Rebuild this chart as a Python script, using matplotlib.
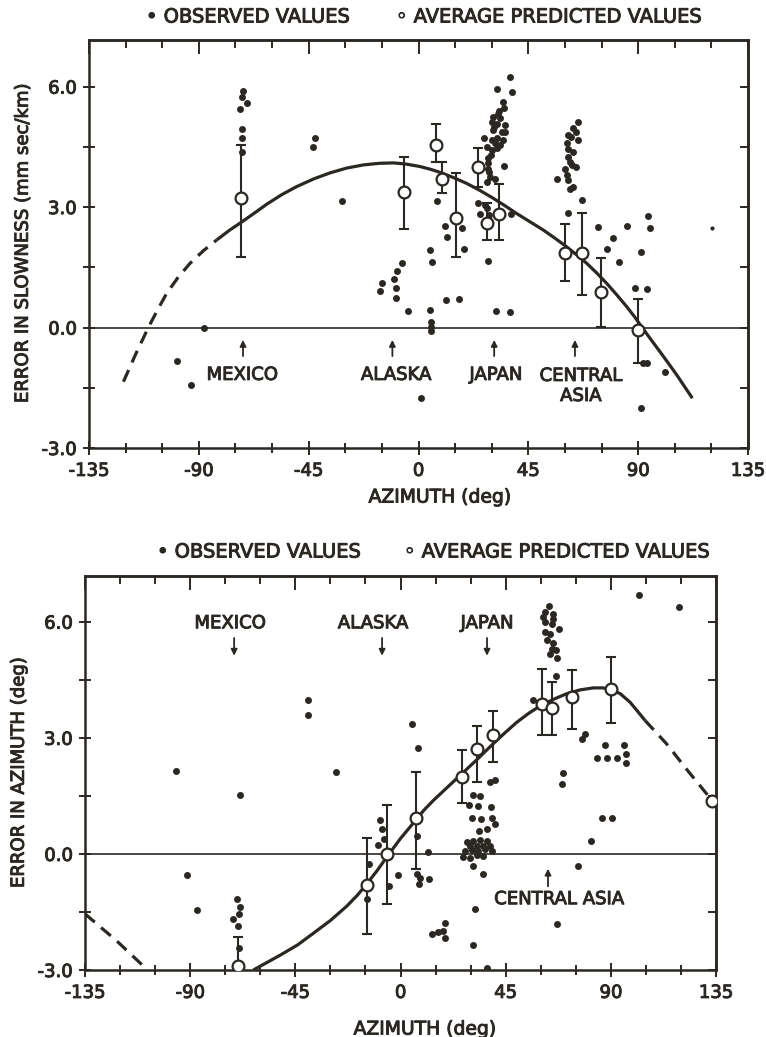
import matplotlib
matplotlib.use("Agg")
import matplotlib.pyplot as plt
import matplotlib.patheffects as pe
from matplotlib.text import Text
from matplotlib.ticker import MultipleLocator, FormatStrFormatter, NullFormatter

plt.rcParams['font.family'] = 'DejaVu Sans'
plt.rcParams['axes.unicode_minus'] = False

INK = '#2b2723'

# -------------------------
# Upper panel: error in slowness
# -------------------------
top_obs_x = [-72.0, -72.5, -70.2, -73.3, -72.3, -72.3, -72.3, -42.4, -43.1, -31.2, -87.9, -99.1, -93.2,
             -6.9, -8.7, -10.0, -14.8, -15.8, -9.3, -9.3, -4.2, 1.0, 4.7, 5.0, 5.0, 5.0, 4.7, 5.7,
             7.5, 10.9, 11.8, 17.7, 18.8, 11.3, 16.7, 28.6, 31.7, 37.5, 37.8, 35.2,
             37.5, 32.0, 38.2, 34.7, 35.2, 32.7, 30.6, 30.0, 32.0, 33.4, 35.5, 30.6, 34.1, 35.5,
             30.0, 32.0, 34.7, 27.0, 31.4, 32.0, 30.0, 27.9, 28.6, 28.6, 28.6, 29.0, 29.4, 31.4,
             27.9, 33.0, 31.0, 33.5, 29.5, 24.5, 27.2, 27.9, 25.2, 29.0,
             65.5, 63.4, 64.5, 61.4, 65.5, 60.7, 62.5, 61.4, 63.4, 61.4, 62.1, 60.0, 62.7, 64.7,
             60.7, 61.4, 56.7, 62.1, 63.4, 67.1, 61.4, 73.4, 85.3, 94.1, 94.8, 79.8, 77.1, 82.1,
             91.0, 88.7, 93.7, 92.1, 93.5, 101.0, 91.0]
top_obs_y = [5.90, 5.75, 5.60, 5.45, 4.94, 4.71, 4.38, 4.71, 4.50, 3.16, 0.00, -0.83, -1.43,
             1.61, 1.41, 1.20, 1.10, 0.91, 0.98, 0.73, 0.41, -1.75, 0.44, 0.14, 0.02, -0.08, 1.93, 1.62,
             3.15, 2.53, 2.26, 2.47, 1.95, 0.68, 0.70, 1.66, 0.42, 0.38, 2.82, 4.02,
             6.23, 5.94, 5.87, 5.61, 5.46, 5.33, 5.25, 5.12, 5.08, 5.21, 5.04, 4.92, 4.87, 4.87,
             4.67, 4.71, 4.67, 4.73, 4.59, 4.46, 4.42, 4.49, 4.21, 4.09, 3.96, 3.88, 3.75, 3.71,
             3.63, 5.40, 5.00, 4.55, 4.30, 3.11, 3.05, 2.97, 2.83, 2.80,
             5.11, 4.96, 4.87, 4.79, 4.67, 4.60, 4.75, 4.44, 4.38, 4.25, 4.13, 3.96, 4.05, 4.00,
             3.80, 3.67, 3.71, 3.46, 3.50, 3.17, 2.84, 2.51, 2.53, 2.78, 2.48, 2.22, 1.95, 1.62,
             1.87, 0.99, 0.96, -0.89, -0.89, -1.10, -2.01]
top_faint_x = [120.1]
top_faint_y = [2.47]

top_avg_x = [-72.7, -6.1, 7.2, 9.8, 15.2, 24.5, 27.9, 33.1, 60.0, 66.9, 74.8, 90.1]
top_avg_y = [3.22, 3.38, 4.54, 3.71, 2.72, 3.99, 2.61, 2.83, 1.85, 1.85, 0.88, -0.06]
top_avg_hi = [4.54, 4.25, 5.08, 4.13, 3.85, 4.46, 3.10, 3.57, 2.58, 2.86, 1.72, 0.71]
top_avg_lo = [1.75, 2.46, 4.13, 3.34, 1.75, 3.50, 2.18, 2.18, 1.16, 0.81, 0.02, -0.89]

top_dash_x = [-120.9, -116.0, -110.7, -107.0, -103.2, -98.5, -93.6, -88.0, -82.7]
top_dash_y = [-1.35, -0.68, 0.00, 0.43, 0.85, 1.25, 1.60, 1.92, 2.18]
top_curve_x = [-82.7, -77.5, -72.4, -67.0, -62.2, -56.0, -49.9, -43.0, -36.3, -29.5, -22.6, -16.0,
               -10.3, -5.0, 0.6, 5.0, 9.5, 14.5, 19.7, 25.0, 30.6, 35.5, 40.2, 45.5, 51.1, 56.0,
               60.7, 65.0, 68.9, 73.0, 77.1, 81.0, 85.3, 88.5, 91.4, 95.0, 98.9, 102.5, 105.8,
               109.0, 112.2]
top_curve_y = [2.18, 2.42, 2.63, 2.86, 3.07, 3.31, 3.51, 3.70, 3.85, 3.97, 4.05, 4.09,
               4.10, 4.07, 4.01, 3.94, 3.85, 3.73, 3.59, 3.42, 3.22, 3.03, 2.84, 2.64, 2.43, 2.22,
               2.01, 1.80, 1.60, 1.36, 1.10, 0.83, 0.52, 0.27, 0.02, -0.28, -0.60, -0.90, -1.18,
               -1.47, -1.76]

top_regions = ['MEXICO', 'ALASKA', 'JAPAN', 'CENTRAL\nASIA']
top_region_arrow_x = [-71.9, -10.7, 31.0, 64.1]
top_region_text_x = [-72.3, -9.2, 31.7, 66.5]

# -------------------------
# Lower panel: error in azimuth
# -------------------------
bot_obs_x = [-96.1, -68.7, -39.4, -39.4, -27.7, -91.2, -87.2,
             -70.1, -68.7, -69.0, -71.5, -69.4, -69.0, 4.8, 7.3,
             -8.8, -7.8, -7.1, -9.5, -13.5, -14.2, -0.9, -4.9,
             7.1, 8.5, 12.0, 7.8, 6.9, 11.9,
             38.3, 40.4, 30.9, 34.0, 29.4, 33.3, 38.6, 30.5, 34.3, 39.0, 40.4, 33.7, 36.9,
             28.3, 31.2, 34.0, 36.9, 29.7, 32.6, 35.4, 38.3, 27.6, 30.5, 33.3, 36.2, 39.0,
             26.9, 29.7, 32.6, 35.4, 31.2, 35.4, 31.9, 19.0, 18.1, 16.2, 13.3, 19.0, 30.9, 37.1,
             102.1, 119.2, 63.7, 61.8, 65.1, 61.1, 65.4, 61.6, 64.8, 67.6, 61.8, 63.9, 62.5,
             65.4, 64.8, 66.6, 63.9, 66.8, 66.5, 56.6, 77.5, 79.0, 87.5, 95.8, 83.9, 88.5,
             92.5, 96.5, 96.5, 69.4, 69.0, 86.4, 90.4, 81.4, 75.8, 66.8]
bot_obs_y = [2.13, 1.52, 3.98, 3.60, 2.12, -0.55, -1.45,
             -1.16, -1.37, -1.56, -1.68, -1.85, -2.43, 3.36, 2.74,
             0.88, 0.64, 0.38, 0.23, -0.25, -1.16, -0.54, -0.83,
             -0.53, -0.63, -0.66, -0.77, 0.47, 0.06,
             1.85, 1.92, 1.52, 1.50, 1.26, 1.24, 1.20, 0.94, 0.90, 0.92, 0.77, 0.58, 0.64,
             0.32, 0.34, 0.35, 0.34, 0.21, 0.21, 0.21, 0.21, 0.08, 0.10, 0.08, 0.12, 0.08,
             -0.08, -0.10, -0.03, -0.05, -0.31, -0.51, -1.43, -1.78, -1.98, -2.01, -2.06, -2.17, -2.36, -2.95,
             6.68, 6.38, 6.40, 6.25, 6.21, 6.12, 6.08, 5.99, 5.95, 5.80, 5.73, 5.67, 5.52,
             5.45, 5.30, 5.26, 5.17, 5.07, 4.61, 3.98, 2.97, 3.10, 2.82, 2.82, 2.48, 2.48,
             2.48, 2.58, 2.34, 2.09, 1.81, 0.94, 0.92, 0.34, -0.31, -1.80]

bot_avg_x = [-69.4, -14.5, -5.9, 6.5, 26.4, 32.9, 39.7, 60.4, 65.0, 73.5, 89.9, 133.2]
bot_avg_y = [-2.90, -0.80, 0.01, 0.92, 2.00, 2.71, 3.08, 3.88, 3.76, 4.05, 4.27, 1.37]
bot_avg_hi = [-2.15, 0.41, 1.26, 2.12, 2.69, 3.30, 3.70, 4.78, 4.44, 4.76, 5.09, 1.37]
bot_avg_lo = [-3.60, -2.06, -1.30, -0.40, 1.31, 1.87, 2.38, 3.06, 3.06, 3.23, 3.39, 1.37]

bot_dash1_x = [-135.0, -121.4, -108.6]
bot_dash1_y = [-1.55, -2.25, -2.98]
bot_curve_x = [-63.0, -57.0, -51.6, -44.0, -37.3, -30.0, -23.0, -18.5, -14.5, -10.0, -5.9, 0.0,
               5.5, 10.0, 14.0, 20.0, 26.4, 32.9, 39.7, 44.5, 49.7, 55.0, 60.4, 66.0, 71.1,
               77.0, 82.5, 86.5, 89.9, 94.0, 98.2, 101.5, 104.6]
bot_curve_y = [-3.00, -2.80, -2.62, -2.35, -2.05, -1.72, -1.35, -1.07, -0.78, -0.43, -0.08, 0.40,
               0.80, 1.13, 1.38, 1.72, 2.08, 2.45, 2.85, 3.12, 3.40, 3.64, 3.85, 4.01, 4.14,
               4.24, 4.29, 4.29, 4.25, 4.14, 3.92, 3.68, 3.45]
bot_dash2_x = [104.6, 113.9, 122.5, 131.0, 135.0]
bot_dash2_y = [3.45, 2.84, 2.18, 1.55, 1.26]

bot_regions = ['MEXICO', 'ALASKA', 'JAPAN']
bot_region_arrow_x = [-71.2, -7.9, 37.0]
bot_region_text_x = [-73.0, -11.8, 37.0]


def style_axes(ax, ytop):
    ax.set_xlim(-135, 135)
    ax.set_ylim(-3, ytop)
    ax.xaxis.set_major_locator(MultipleLocator(45))
    ax.xaxis.set_minor_locator(MultipleLocator(15))
    ax.yaxis.set_major_locator(MultipleLocator(3))
    ax.yaxis.set_minor_locator(MultipleLocator(1.5))
    ax.yaxis.set_major_formatter(FormatStrFormatter('%.1f'))
    ax.xaxis.set_major_formatter(FormatStrFormatter('%d'))
    ax.tick_params(which='both', direction='inout', color=INK, width=1.4,
                   labelsize=13, labelcolor=INK)
    ax.tick_params(axis='x', which='major', length=10, pad=5)
    ax.tick_params(axis='x', which='minor', length=7)
    ax.tick_params(axis='y', which='both', length=8, pad=5)
    for s in ax.spines.values():
        s.set_linewidth(1.8)
        s.set_color(INK)
    # top and right ticks point inward
    sx = ax.secondary_xaxis('top')
    sx.xaxis.set_major_locator(MultipleLocator(45))
    sx.xaxis.set_minor_locator(MultipleLocator(15))
    sx.xaxis.set_major_formatter(NullFormatter())
    sx.tick_params(which='major', direction='in', length=10, width=1.4, color=INK)
    sx.tick_params(which='minor', direction='in', length=6, width=1.4, color=INK)
    sx.spines['top'].set_linewidth(1.8)
    sx.spines['top'].set_color(INK)
    sy = ax.secondary_yaxis('right')
    sy.yaxis.set_major_locator(MultipleLocator(3))
    sy.yaxis.set_minor_locator(MultipleLocator(1.5))
    sy.yaxis.set_major_formatter(NullFormatter())
    sy.tick_params(which='both', direction='in', length=6, width=1.4, color=INK)
    sy.spines['right'].set_linewidth(1.8)
    sy.spines['right'].set_color(INK)
    ax.axhline(0, color=INK, lw=1.2, zorder=1)


def draw_avg(ax, x, y, lo, hi):
    yerr = [[yy - l for yy, l in zip(y, lo)], [h - yy for yy, h in zip(y, hi)]]
    ax.errorbar(x, y, yerr=yerr, fmt='none', ecolor=INK, elinewidth=1.5,
                capsize=3.5, capthick=1.5, zorder=3)
    ax.plot(x, y, 'o', ms=8.5, mfc='white', mec=INK, mew=1.6, zorder=4)


def region_arrow(ax, x, y_tail, y_head):
    ax.annotate('', xy=(x, y_head), xytext=(x, y_tail),
                arrowprops=dict(arrowstyle='-|>', color=INK, lw=1.3, mutation_scale=9))


fig = plt.figure(figsize=(7.66, 10.37), dpi=100)
fig.patch.set_facecolor('white')

# -------------------------
# Upper panel
# -------------------------
ax1 = fig.add_axes([0.1162, 0.5680, 0.8603, 0.3934])
style_axes(ax1, 7.16)
ax1.plot(top_obs_x, top_obs_y, 'o', ms=5, color=INK, mec='none', zorder=2)
ax1.plot(top_faint_x, top_faint_y, 'o', ms=3, color=INK, mec='none', zorder=2)
ax1.plot(top_dash_x, top_dash_y, color=INK, lw=2.3, dashes=(4, 2.6), zorder=3)
ax1.plot(top_curve_x, top_curve_y, color=INK, lw=2.3, zorder=3, solid_capstyle='butt')
draw_avg(ax1, top_avg_x, top_avg_y, top_avg_lo, top_avg_hi)
for name, xa, xt in zip(top_regions, top_region_arrow_x, top_region_text_x):
    region_arrow(ax1, xa, -0.78, -0.24)
    yt = -1.18 - 0.275 * name.count('\n')
    ax1.text(xt, yt, name, ha='center', va='center', fontsize=13, color=INK, linespacing=1.15)
ax1.set_ylabel('ERROR IN SLOWNESS (mm sec/km)', fontsize=13, color=INK, labelpad=7)

# -------------------------
# Lower panel
# -------------------------
ax2 = fig.add_axes([0.1110, 0.0646, 0.8238, 0.3799])
style_axes(ax2, 7.18)
ax2.plot(bot_obs_x, bot_obs_y, 'o', ms=5, color=INK, mec='none', zorder=2)
ax2.plot(bot_dash1_x, bot_dash1_y, color=INK, lw=2.3, dashes=(4, 2.6), zorder=3)
ax2.plot(bot_dash2_x, bot_dash2_y, color=INK, lw=2.3, dashes=(4, 2.6), zorder=3)
ax2.plot(bot_curve_x, bot_curve_y, color=INK, lw=2.3, zorder=3, solid_capstyle='butt')
draw_avg(ax2, bot_avg_x, bot_avg_y, bot_avg_lo, bot_avg_hi)
for name, xa, xt in zip(bot_regions, bot_region_arrow_x, bot_region_text_x):
    region_arrow(ax2, xa, 5.65, 5.05)
    ax2.text(xt, 5.96, name, ha='center', va='center', fontsize=13, color=INK)
region_arrow(ax2, 63.1, -0.91, -0.31)
ax2.text(67.8, -1.17, 'CENTRAL ASIA', ha='center', va='center', fontsize=13, color=INK)
ax2.set_ylabel('ERROR IN AZIMUTH (deg)', fontsize=13, color=INK, labelpad=7)

# axis titles and keys
fig.text(440 / 766, 1 - 497 / 1037, 'AZIMUTH (deg)', ha='center', va='center', fontsize=13.5, color=INK)
fig.text(425 / 766, 1 - 1029 / 1037, 'AZIMUTH (deg)', ha='center', va='center', fontsize=13.5, color=INK)

for ytxt, x0, x1 in [(17, 146, 396), (552, 157, 404)]:
    fy = 1 - ytxt / 1037
    fig.text(x0 / 766, fy, '\u2022 OBSERVED VALUES', ha='left', va='center', fontsize=14, color=INK)
    fig.text(x1 / 766, fy, '\u25e6 AVERAGE PREDICTED VALUES', ha='left', va='center', fontsize=14, color=INK)

# heavier, pen-like lettering
fig.canvas.draw()
for t in fig.findobj(Text):
    if t.get_text():
        t.set_path_effects([pe.withStroke(linewidth=0.7, foreground=INK)])

fig.savefig('out.png', dpi=100, facecolor='white')
